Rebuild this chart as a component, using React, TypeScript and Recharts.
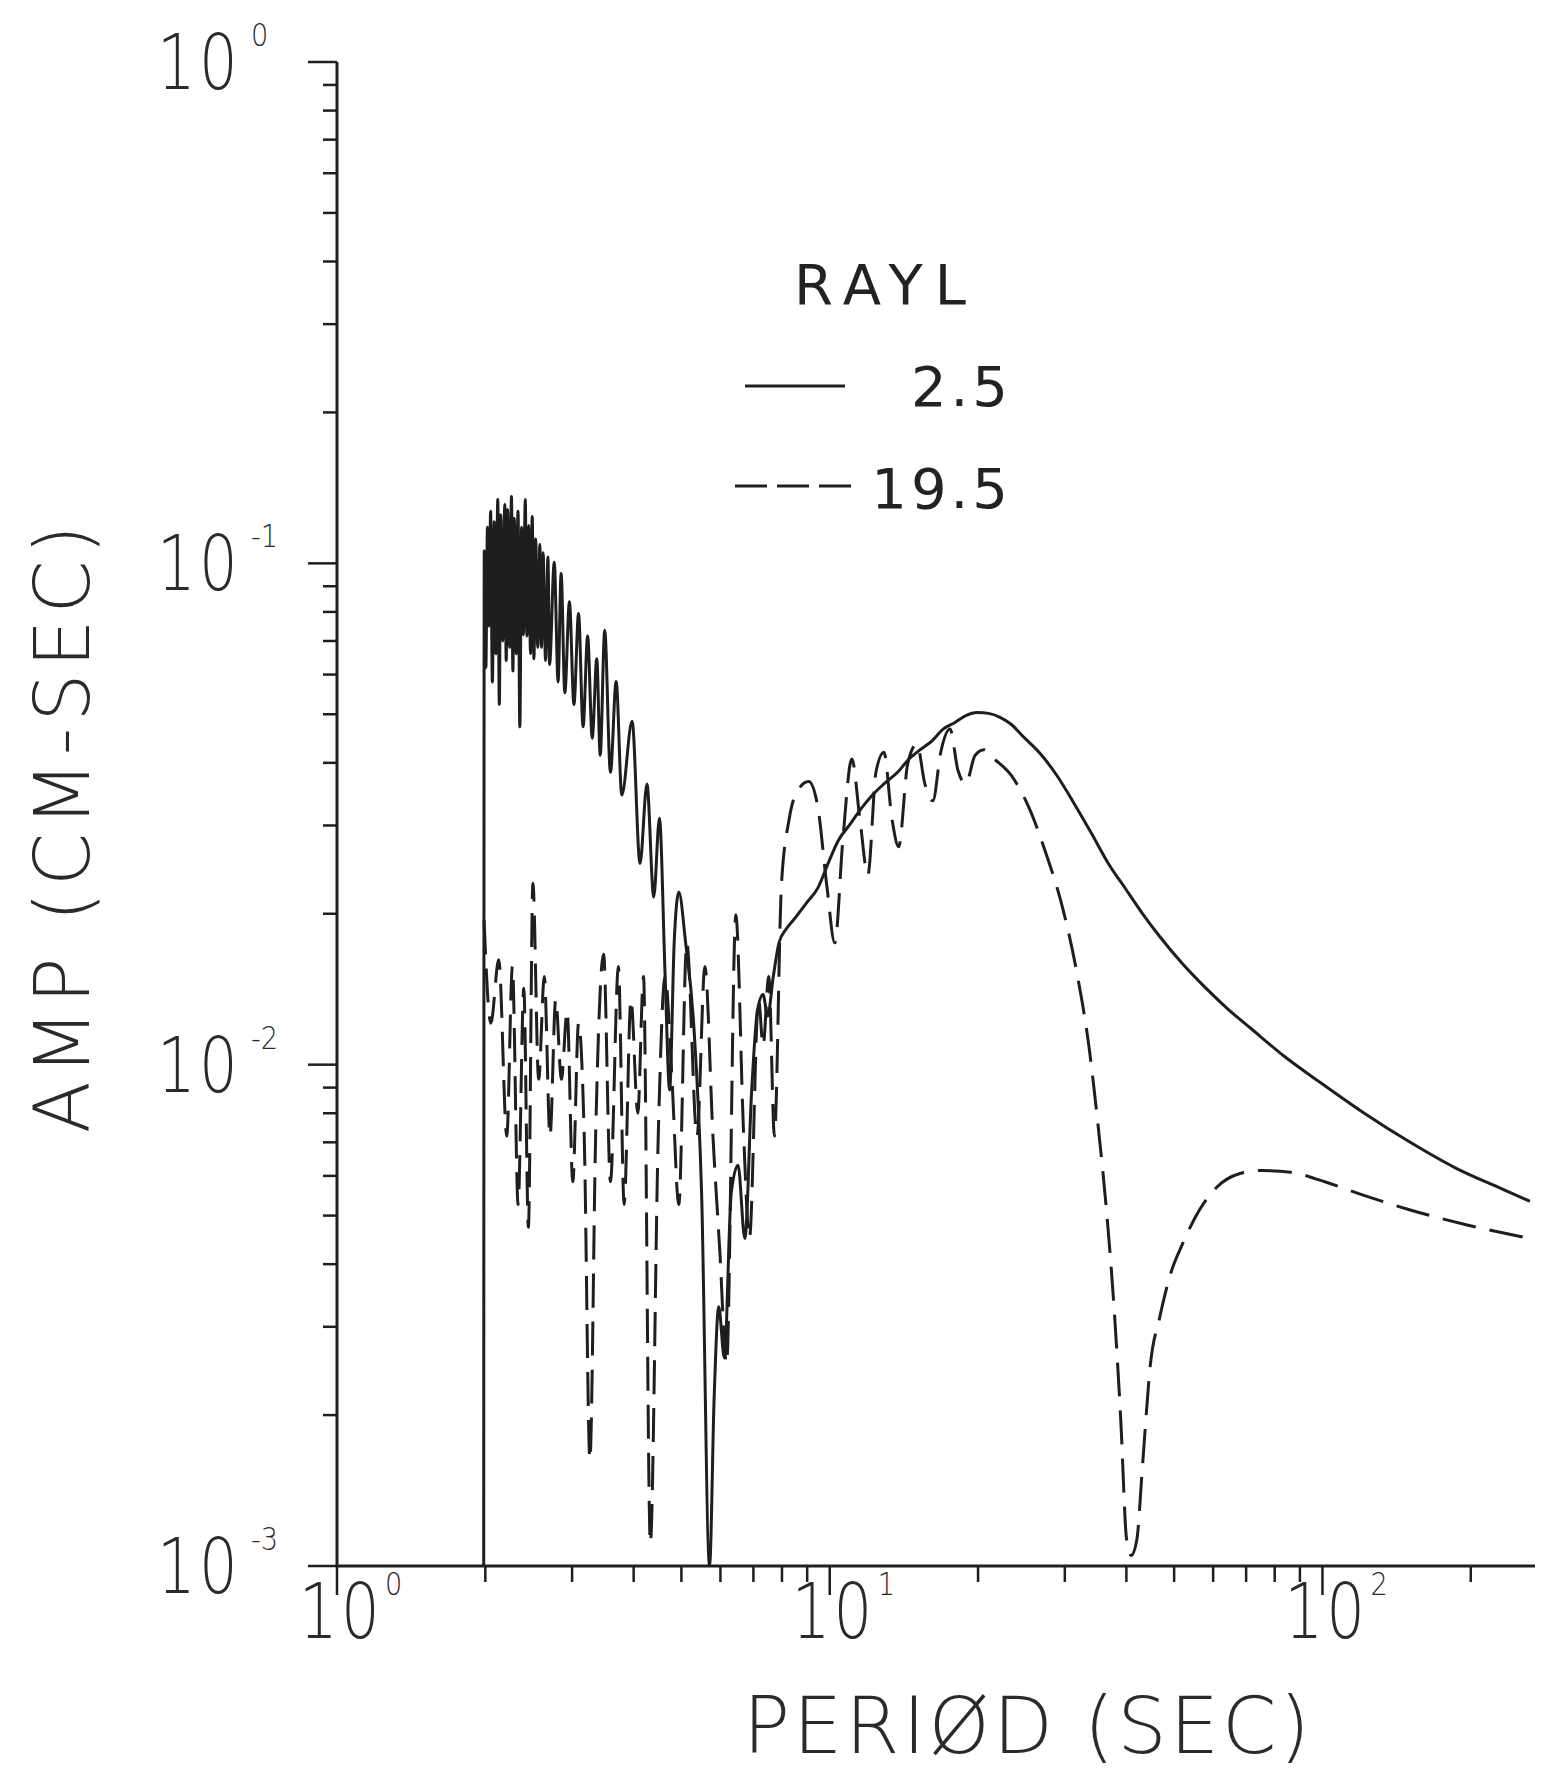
import { LineChart, Line, XAxis, YAxis, Legend } from "recharts";

const INK = "#1e1e1e";
const FONT = "'DejaVu Sans', 'Liberation Sans', sans-serif";

// RAYL 2.5 (solid)
const solidPeriod = [
  1.985, 1.99, 2.005, 2.02, 2.035, 2.05, 2.067, 2.085, 2.1, 2.12, 2.135, 2.15, 2.17, 2.19, 2.205,
  2.22, 2.24, 2.26, 2.275, 2.29, 2.31, 2.33, 2.35, 2.37, 2.39, 2.41, 2.43, 2.45, 2.47, 2.49, 2.51,
  2.53, 2.555, 2.58, 2.6, 2.62, 2.65, 2.68, 2.7, 2.76, 2.81, 2.85, 2.9, 2.963, 3.026, 3.092, 3.158,
  3.226, 3.296, 3.367, 3.421, 3.494, 3.589, 3.686, 3.785, 3.971, 4.121, 4.256, 4.394, 4.512, 4.634,
  4.732, 4.834, 4.94, 5.1, 5.294, 5.495, 5.703, 5.827, 5.953, 6.111, 6.31, 6.515, 6.726, 6.944,
  7.132, 7.324, 7.482, 7.682, 7.889, 8.147, 8.502, 8.967, 9.456, 9.973, 10.41, 10.98, 11.58, 12.21,
  12.88, 13.73, 14.48, 15.27, 16.11, 16.99, 17.92, 18.89, 19.93, 21.01, 22.17, 23.38, 24.66, 26.71,
  28.93, 31.33, 33.93, 36.76, 39.81, 43.12, 46.7, 51.95, 57.79, 64.28, 71.51, 83.88, 98.42, 121.8,
  150.7, 186.4, 230.7, 263.6,
];
const solidAmp = [
  0.001, 0.106, 0.062, 0.118, 0.075, 0.127, 0.058, 0.121, 0.066, 0.134, 0.0523, 0.125, 0.07, 0.131,
  0.064, 0.128, 0.068, 0.136, 0.061, 0.123, 0.066, 0.127, 0.0472, 0.118, 0.072, 0.134, 0.0716,
  0.119, 0.066, 0.124, 0.0645, 0.112, 0.068, 0.109, 0.068, 0.105, 0.064, 0.103, 0.0628, 0.1005,
  0.058, 0.0955, 0.0552, 0.0838, 0.0523, 0.0794, 0.0472, 0.0716, 0.0448, 0.0645, 0.0414, 0.0735,
  0.0383, 0.0581, 0.0345, 0.0484, 0.0252, 0.0363, 0.0216, 0.031, 0.015, 0.0089, 0.0175, 0.0221,
  0.0175, 0.0121, 0.00554, 0.001, 0.00217, 0.00329, 0.0026, 0.00554, 0.0063, 0.0045, 0.0089, 0.0128,
  0.0138, 0.0125, 0.015, 0.0175, 0.0186, 0.0196, 0.021, 0.0225, 0.0255, 0.028, 0.0301, 0.0324,
  0.0345, 0.0363, 0.0383, 0.0407, 0.0425, 0.0442, 0.0467, 0.0481, 0.0497, 0.0504, 0.0502, 0.0493,
  0.0477, 0.0452, 0.0418, 0.0377, 0.0332, 0.029, 0.0252, 0.02246, 0.02002, 0.01804, 0.01591,
  0.01426, 0.01291, 0.01182, 0.01037, 0.00925, 0.00799, 0.007, 0.00622, 0.00566, 0.00534,
];

// RAYL 19.5 (dashed)
const dashedPeriod = [
  1.988, 2.052, 2.13, 2.211, 2.27, 2.331, 2.394, 2.446, 2.498, 2.566, 2.635, 2.706, 2.779, 2.854,
  2.931, 3.01, 3.092, 3.175, 3.261, 3.349, 3.476, 3.589, 3.725, 3.826, 3.95, 4.078, 4.188, 4.324,
  4.487, 4.634, 4.785, 4.94, 5.127, 5.378, 5.581, 5.794, 5.981, 6.176, 6.447, 6.689, 6.871, 7.171,
  7.324, 7.521, 7.724, 7.977, 8.279, 8.64, 9.063, 9.456, 9.868, 10.24, 10.63, 11.09, 11.51, 11.95,
  12.41, 12.88, 13.37, 13.8, 14.4, 15.03, 15.6, 16.19, 16.8, 17.54, 18.2, 18.89, 19.72, 20.57,
  21.59, 23.38, 25.32, 27.43, 29.71, 31.84, 33.57, 35.03, 36.36, 37.75, 38.97, 40.04, 40.9, 42.01,
  43.12, 44.76, 46.7, 49.27, 51.95, 56.27, 60.95, 67.8, 75.43, 86.15, 101.1, 121.8, 150.7, 196.6,
  263.6,
];
const dashedAmp = [
  0.0194, 0.0121, 0.0162, 0.0072, 0.0157, 0.00526, 0.0142, 0.00474, 0.023, 0.00935, 0.015, 0.0072,
  0.0135, 0.00935, 0.0128, 0.00584, 0.0121, 0.0072, 0.00163, 0.0072, 0.0166, 0.00584, 0.0157,
  0.00526, 0.0135, 0.008, 0.015, 0.00111, 0.0072, 0.015, 0.00935, 0.00526, 0.0175, 0.0072, 0.0157,
  0.0072, 0.00427, 0.00253, 0.0199, 0.0072, 0.0045, 0.0135, 0.0109, 0.015, 0.0072, 0.0227, 0.031,
  0.0354, 0.0367, 0.0327, 0.0227, 0.0175, 0.028, 0.0407, 0.031, 0.0239, 0.0383, 0.042, 0.031,
  0.0272, 0.0399, 0.0436, 0.0363, 0.0336, 0.042, 0.0467, 0.0387, 0.0363, 0.0414, 0.0425, 0.0407,
  0.0377, 0.0327, 0.0265, 0.0205, 0.015, 0.0109, 0.00759, 0.00526, 0.00329, 0.00195, 0.00113,
  0.00105, 0.00113, 0.00158, 0.00253, 0.00312, 0.00385, 0.00438, 0.00513, 0.00569, 0.00606,
  0.00615, 0.0061, 0.00584, 0.00548, 0.00513, 0.00479, 0.0045,
];

const periodTicks = [1, 2, 3, 4, 5, 6, 7, 8, 9, 10, 20, 30, 40, 50, 60, 70, 80, 90, 100, 200];
const ampTicks = [
  0.001, 0.002, 0.003, 0.004, 0.005, 0.006, 0.007, 0.008, 0.009, 0.01, 0.02, 0.03, 0.04, 0.05, 0.06,
  0.07, 0.08, 0.09, 0.1, 0.2, 0.3, 0.4, 0.5, 0.6, 0.7, 0.8, 0.9, 1,
];
const legendTitle = "RAYL";
const seriesNames = ["2.5", "19.5"];

const solidData = solidPeriod.map((t, i) => ({ t, a: solidAmp[i] }));
const dashedData = dashedPeriod.map((t, i) => ({ t, a: dashedAmp[i] }));

const decade = (v: number) => {
  const l = Math.log10(v);
  const e = Math.round(l);
  return { e, major: Math.abs(l - e) < 1e-6 };
};
const expText = (e: number) => (e < 0 ? `-${-e}` : `${e}`);

// plotter-style label: narrow "10" plus a small exponent
function Pow({ x, y, sx, sy, e }: { x: number; y: number; sx: number; sy: number; e: number }) {
  return (
    <g fill="#2a2a2a" fontFamily={FONT} fontWeight={200}>
      <text transform={`translate(${x} ${y}) scale(0.8 1)`} fontSize={76} letterSpacing={4}>10</text>
      <text transform={`translate(${sx} ${sy}) scale(0.85 1)`} fontSize={32}>{expText(e)}</text>
    </g>
  );
}

function XTick(props: any) {
  const { x, y, payload } = props;
  const { e, major } = decade(payload.value);
  return (
    <g>
      <line x1={x} x2={x} y1={y} y2={y + (major ? 29 : 16)} stroke={INK} strokeWidth={2.5} />
      {major && <Pow x={x - 38} y={y + 72} sx={x + 48} sy={y + 29} e={e} />}
    </g>
  );
}

function YTick(props: any) {
  const { x, y, payload } = props;
  const { e, major } = decade(payload.value);
  return (
    <g>
      <line x1={x} x2={x - (major ? 29 : 14)} y1={y} y2={y} stroke={INK} strokeWidth={2.5} />
      {major && <Pow x={x - 180} y={y + 27} sx={x - 86} sy={y - 16} e={e} />}
    </g>
  );
}

function YTitle(props: any) {
  const { viewBox } = props;
  const cx = viewBox.x + 89;
  const cy = viewBox.y + viewBox.height / 2 + 12;
  return (
    <text x={cx} y={cy} transform={`rotate(-90 ${cx} ${cy})`} textAnchor="middle" fontSize={76}
      fontFamily={FONT} fontWeight={200} letterSpacing={6} fill="#2a2a2a">
      AMP (CM-SEC)
    </text>
  );
}

function XTitle(props: any) {
  const { viewBox } = props;
  return (
    <text x={viewBox.x + viewBox.width / 2 + 92} y={viewBox.y + 187} textAnchor="middle" fontSize={78}
      fontFamily={FONT} fontWeight={200} letterSpacing={3} fill="#2a2a2a">
      PERIØD (SEC)
    </text>
  );
}

function LegendBox() {
  return (
    <svg width={320} height={290}>
      <g fontFamily={FONT} fontSize={56} fill="#222">
        <text x={74} y={64} letterSpacing={12}>{legendTitle}</text>
        <line x1={25} x2={125} y1={146} y2={146} stroke={INK} strokeWidth={3} />
        <text x={292} y={166} textAnchor="end" letterSpacing={4}>{seriesNames[0]}</text>
        <line x1={15} x2={131} y1={246} y2={246} stroke={INK} strokeWidth={3} strokeDasharray="32 10" />
        <text x={292} y={268} textAnchor="end" letterSpacing={4}>{seriesNames[1]}</text>
      </g>
    </svg>
  );
}

export default function App() {
  return (
    <div style={{ position: "absolute", left: 0, top: 0, width: 1542, height: 1779, background: "#fff" }}>
      <LineChart width={1542} height={1779} margin={{ top: 62, right: 7, left: 0, bottom: 0 }}>
        <XAxis
          dataKey="t"
          type="number"
          scale="log"
          domain={[1, 270]}
          allowDataOverflow
          ticks={periodTicks}
          interval={0}
          tick={<XTick />}
          tickLine={false}
          tickSize={0}
          tickMargin={0}
          height={213}
          axisLine={{ stroke: INK, strokeWidth: 3 }}
          label={<XTitle />}
        />
        <YAxis
          dataKey="a"
          type="number"
          scale="log"
          domain={[0.001, 1]}
          allowDataOverflow
          ticks={ampTicks}
          interval={0}
          tick={<YTick />}
          tickLine={false}
          tickSize={0}
          tickMargin={0}
          width={337}
          axisLine={{ stroke: INK, strokeWidth: 3 }}
          label={<YTitle />}
        />
        <Legend
          layout="horizontal"
          verticalAlign="middle"
          align="center"
          content={() => <LegendBox />}
          wrapperStyle={{ left: 720, top: 240, width: 320, height: 290 }}
        />
        <Line
          data={solidData}
          dataKey="a"
          name={seriesNames[0]}
          type="monotoneX"
          stroke={INK}
          strokeWidth={3}
          dot={false}
          activeDot={false}
          isAnimationActive={false}
        />
        <Line
          data={dashedData}
          dataKey="a"
          name={seriesNames[1]}
          type="monotoneX"
          stroke={INK}
          strokeWidth={3}
          strokeDasharray="34 14"
          dot={false}
          activeDot={false}
          isAnimationActive={false}
        />
      </LineChart>
    </div>
  );
}
